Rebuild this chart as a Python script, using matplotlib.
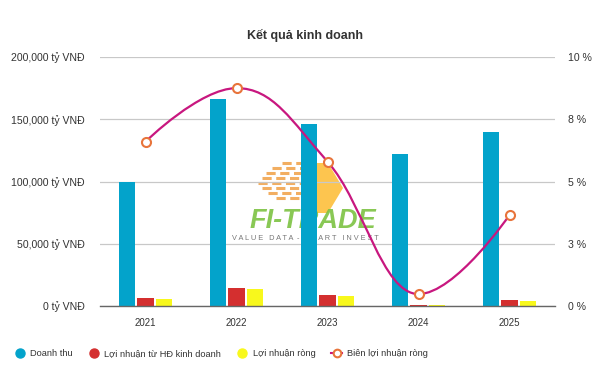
import matplotlib
matplotlib.use("Agg")
import matplotlib.pyplot as plt
import numpy as np
from matplotlib.path import Path
from matplotlib.patches import PathPatch, Polygon
from matplotlib.lines import Line2D

plt.rcParams['font.family'] = ['Liberation Sans', 'DejaVu Sans']

# ---- data ----
years = ['2021', '2022', '2023', '2024', '2025']
doanh_thu = [100000, 166000, 146000, 122000, 140000]
ln_hdkd = [6200, 14200, 8600, 700, 4800]
ln_rong = [5400, 13400, 8000, 600, 4000]
bien_ln = [6.6, 8.75, 5.8, 0.48, 3.65]

left_ticks = [0, 50000, 100000, 150000, 200000]
left_labels = ['0 tỷ VNĐ', '50,000 tỷ VNĐ', '100,000 tỷ VNĐ', '150,000 tỷ VNĐ', '200,000 tỷ VNĐ']
right_ticks = [0, 2.5, 5, 7.5, 10]
right_labels = ['0 %', '3 %', '5 %', '8 %', '10 %']

c_blue = '#03a3cb'
c_red = '#d42f2f'
c_yellow = '#f8f81c'
c_line = '#c8177f'
c_marker = '#e8743b'

W, H = 604, 383
fig = plt.figure(figsize=(W / 100, H / 100), dpi=100)
ax = fig.add_axes([100 / W, 1 - 306 / H, 455 / W, 249 / H])

x = np.arange(len(years))
bw = 0.18
ax.bar(x - 0.205, doanh_thu, bw, color=c_blue, zorder=3)
ax.bar(x, ln_hdkd, bw, color=c_red, zorder=3)
ax.bar(x + 0.205, ln_rong, bw, color=c_yellow, zorder=3)

ax.set_xlim(-0.5, 4.5)
ax.set_ylim(0, 200000)
ax.set_yticks(left_ticks)
ax.set_yticklabels(left_labels)
ax.set_xticks(x)
ax.set_xticklabels(years)
ax.grid(axis='y', color='#c8c8c8', linewidth=0.9, zorder=0)
for s in ['top', 'right', 'left']:
    ax.spines[s].set_visible(False)
ax.spines['bottom'].set_color('#666666')
ax.spines['bottom'].set_linewidth(1.0)
ax.spines['bottom'].set_zorder(4)
ax.tick_params(axis='y', length=0, pad=11, labelsize=7.6, labelcolor='#333333')
ax.tick_params(axis='x', length=0, pad=9, labelsize=7, labelcolor='#333333')

# ---- watermark (behind bars) ----
tr = ax.transAxes
def px(xp, yp):
    return ((xp - 100) / 455, (306 - yp) / 249)
hexpts = [px(315, 163), px(328, 163), px(343, 188), px(328, 213), px(315, 213)]
ax.add_patch(Polygon(hexpts, closed=True, transform=tr, color='#fdbb30', alpha=0.85, zorder=1, lw=0))
for (y0, x0, x1) in [(163, 282, 305), (168, 272, 310), (173, 266, 314), (178, 262, 312),
                     (183, 258, 316), (188, 262, 312), (193, 268, 308), (198, 276, 304)]:
    a, b = px(x0, y0), px(x1, y0)
    ax.plot([a[0], b[0]], [a[1], b[1]], transform=tr, color='#ef9a3a', lw=2.2, alpha=0.8, zorder=1,
            solid_capstyle='butt', dashes=(3, 1.5))
p = px(313, 221)
ax.text(p[0], p[1], 'FI-TRADE', transform=tr, ha='center', va='center', fontsize=19.5,
        fontweight='bold', style='italic', color='#7cc242', alpha=0.9, zorder=1)
p = px(305, 239)
ax.text(p[0], p[1], 'V A L U E   D A T A  -  S M A R T   I N V E S T', transform=tr, ha='center',
        va='center', fontsize=5.3, color='#777777', zorder=1)

# ---- secondary axis with spline ----
ax2 = ax.twinx()
ax2.set_ylim(0, 10)
ax2.set_yticks(right_ticks)
ax2.set_yticklabels(right_labels)
ax2.tick_params(axis='y', length=0, pad=9.5, labelsize=7.6, labelcolor='#333333')
for s in ax2.spines.values():
    s.set_visible(False)

def spline_path(xs, ys, smoothing=1.5):
    n = len(xs)
    d = smoothing + 1
    lc = [None] * n
    rc = [None] * n
    for i in range(n):
        xi, yi = xs[i], ys[i]
        if i == 0 or i == n - 1:
            lc[i] = (xi, yi)
            rc[i] = (xi, yi)
            continue
        lx, ly = xs[i - 1], ys[i - 1]
        nx, ny = xs[i + 1], ys[i + 1]
        lcx = (smoothing * xi + lx) / d
        lcy = (smoothing * yi + ly) / d
        rcx = (smoothing * xi + nx) / d
        rcy = (smoothing * yi + ny) / d
        if rcx != lcx:
            corr = ((rcy - lcy) * (rcx - xi)) / (rcx - lcx) + yi - rcy
            lcy += corr
            rcy += corr
        if lcy > ly and lcy > yi:
            lcy = max(ly, yi); rcy = 2 * yi - lcy
        elif lcy < ly and lcy < yi:
            lcy = min(ly, yi); rcy = 2 * yi - lcy
        if rcy > ny and rcy > yi:
            rcy = max(ny, yi); lcy = 2 * yi - rcy
        elif rcy < ny and rcy < yi:
            rcy = min(ny, yi); lcy = 2 * yi - rcy
        lc[i] = (lcx, lcy)
        rc[i] = (rcx, rcy)
    verts = [(xs[0], ys[0])]
    codes = [Path.MOVETO]
    for i in range(1, n):
        verts += [rc[i - 1], lc[i], (xs[i], ys[i])]
        codes += [Path.CURVE4] * 3
    return Path(verts, codes)

path = spline_path(list(x.astype(float)), bien_ln)
ax2.add_patch(PathPatch(path, fill=False, edgecolor=c_line, lw=1.6, zorder=5))
ax2.plot(x, bien_ln, linestyle='none', marker='o', markersize=6.5, markerfacecolor='white',
         markeredgecolor=c_marker, markeredgewidth=1.5, zorder=6)

# ---- title ----
fig.text(305 / W, 1 - 35 / H, 'Kết quả kinh doanh', ha='center', va='center',
         fontsize=9, fontweight='bold', color='#333333')

# ---- legend ----
handles = [
    Line2D([], [], linestyle='none', marker='o', markersize=6.5, markerfacecolor=c_blue, markeredgecolor=c_blue),
    Line2D([], [], linestyle='none', marker='o', markersize=6.5, markerfacecolor=c_red, markeredgecolor=c_red),
    Line2D([], [], linestyle='none', marker='o', markersize=6.5, markerfacecolor=c_yellow, markeredgecolor=c_yellow),
    Line2D([], [], color=c_line, lw=1.5, marker='o', markersize=5.5, markerfacecolor='white',
           markeredgecolor=c_marker, markeredgewidth=1.5),
]
labels = ['Doanh thu', 'Lợi nhuận từ HĐ kinh doanh', 'Lợi nhuận ròng', 'Biên lợi nhuận ròng']
leg = fig.legend(handles, labels, loc='center left', bbox_to_anchor=(14 / W, 1 - 354 / H), ncol=4,
                 frameon=False, fontsize=6.7, handlelength=1.2, handletextpad=0.5, columnspacing=1.7,
                 labelcolor='#333333', borderaxespad=0, borderpad=0)

fig.savefig('out.png', dpi=100)
